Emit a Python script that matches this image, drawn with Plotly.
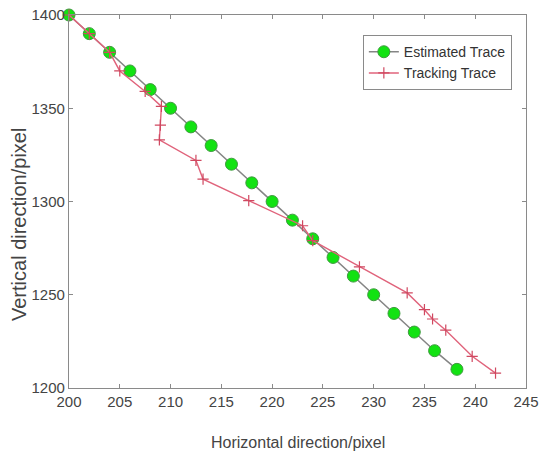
import plotly.graph_objects as go

est_x = [200, 202, 204, 206, 208, 210, 212, 214, 216, 218, 220, 222, 224, 226, 228, 230, 232, 234, 236, 238.2]
est_y = [1400, 1390, 1380, 1370, 1360, 1350, 1340, 1330, 1320, 1310, 1300, 1290, 1280, 1270, 1260, 1250, 1240, 1230, 1220, 1210]

trk_x = [200, 202, 204, 205, 207.5, 209.1, 209.0, 208.9, 212.5, 213.2, 217.7, 223.0, 224.0, 228.6, 233.3, 235.0, 235.8, 237.1, 239.7, 242.0]
trk_y = [1400, 1390, 1380, 1370, 1359, 1351, 1341, 1333, 1322, 1312, 1300.5, 1287, 1279, 1265, 1251, 1242, 1237, 1231, 1217, 1208]

x_ticks = [200, 205, 210, 215, 220, 225, 230, 235, 240, 245]
y_ticks = [1200, 1250, 1300, 1350, 1400]

x_title = "Horizontal direction/pixel"
y_title = "Vertical direction/pixel"

FONT = "Liberation Sans, Arial"

fig = go.Figure()
fig.add_trace(go.Scatter(
    x=est_x, y=est_y, mode="lines+markers", name="Estimated Trace", cliponaxis=False,
    line=dict(color="#858585", width=1.5),
    marker=dict(symbol="circle", size=12, color="#12e212", line=dict(color="#3f9a3f", width=1)),
))
fig.add_trace(go.Scatter(
    x=trk_x, y=trk_y, mode="lines+markers", name="Tracking Trace", cliponaxis=False,
    line=dict(color="#e0637b", width=1.4),
    marker=dict(symbol="cross-thin", size=8, color="#e0637b", line=dict(color="#d04860", width=1.2)),
))

axis_common = dict(
    showline=True, linecolor="#8a8a8a", linewidth=1.2, mirror="ticks",
    ticks="inside", ticklen=4, tickcolor="#8a8a8a",
    showgrid=False, zeroline=False, automargin=False,
    tickfont=dict(family=FONT, size=15, color="#444444"),
)

fig.update_xaxes(range=[200, 245], tickvals=x_ticks, **axis_common)
fig.update_yaxes(range=[1200, 1400], tickvals=y_ticks, **axis_common)

fig.add_annotation(text=x_title, xref="paper", yref="paper", x=0.5, y=0,
                   xanchor="center", yanchor="middle", yshift=-54, showarrow=False,
                   font=dict(family=FONT, size=16, color="#444444"))
fig.add_annotation(text=y_title, xref="paper", yref="paper", x=0, y=0.437,
                   xanchor="center", yanchor="middle", xshift=-50, textangle=-90,
                   showarrow=False,
                   font=dict(family=FONT, size=20, color="#444444"))

fig.update_layout(
    width=539, height=457,
    margin=dict(l=69, r=13, t=15, b=69, autoexpand=False),
    plot_bgcolor="white", paper_bgcolor="white",
    legend=dict(x=0.643, y=0.946, xanchor="left", yanchor="top",
                bordercolor="#8a8a8a", borderwidth=1, bgcolor="white",
                font=dict(family=FONT, size=14, color="#333333"),
                tracegroupgap=0),
    showlegend=True,
)

fig.write_html("out.html", config={"displayModeBar": False},
               post_script="document.body.style.margin='0';document.body.style.overflow='hidden';")
